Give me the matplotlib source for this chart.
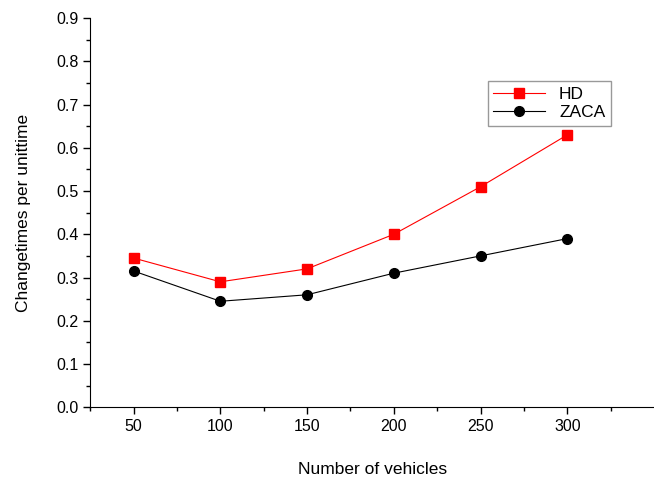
import matplotlib.pyplot as plt
from matplotlib.ticker import MultipleLocator, FixedLocator

plt.rcParams['font.family'] = ['Liberation Sans', 'DejaVu Sans']

vehicles = [50, 100, 150, 200, 250, 300]
hd = [0.345, 0.29, 0.32, 0.40, 0.51, 0.63]
zaca = [0.315, 0.245, 0.26, 0.31, 0.35, 0.39]

fig = plt.figure(figsize=(6.54, 4.79), dpi=100)
ax = fig.add_axes([0.138, 0.150, 0.862, 0.812])

ax.plot(vehicles, hd, color='red', marker='s', markersize=6.5, linewidth=0.8, label='HD')
ax.plot(vehicles, zaca, color='black', marker='o', markersize=7, linewidth=0.8, label='ZACA')

ax.set_xlim(25, 350)
ax.set_ylim(0, 0.9)
ax.xaxis.set_major_locator(FixedLocator(vehicles))
ax.xaxis.set_minor_locator(FixedLocator([25, 75, 125, 175, 225, 275, 325]))
ax.yaxis.set_major_locator(MultipleLocator(0.1))
ax.yaxis.set_minor_locator(MultipleLocator(0.05))
ax.yaxis.set_major_formatter(plt.FormatStrFormatter('%.1f'))

ax.spines['top'].set_visible(False)
ax.spines['right'].set_visible(False)
ax.tick_params(which='major', direction='out', length=5, width=1, labelsize=11.5)
ax.tick_params(which='minor', direction='out', length=3, width=1)

ax.set_xlabel('Number of vehicles', fontsize=12.5, labelpad=20)
ax.set_ylabel('Changetimes per unittime', fontsize=12.5, labelpad=18)

leg = ax.legend(loc='upper left', bbox_to_anchor=(0.69, 0.86), fontsize=12.5,
                fancybox=False, framealpha=1, edgecolor='#999999',
                handlelength=3, borderpad=0.3, labelspacing=0.2)

fig.savefig('out.png', dpi=100)
